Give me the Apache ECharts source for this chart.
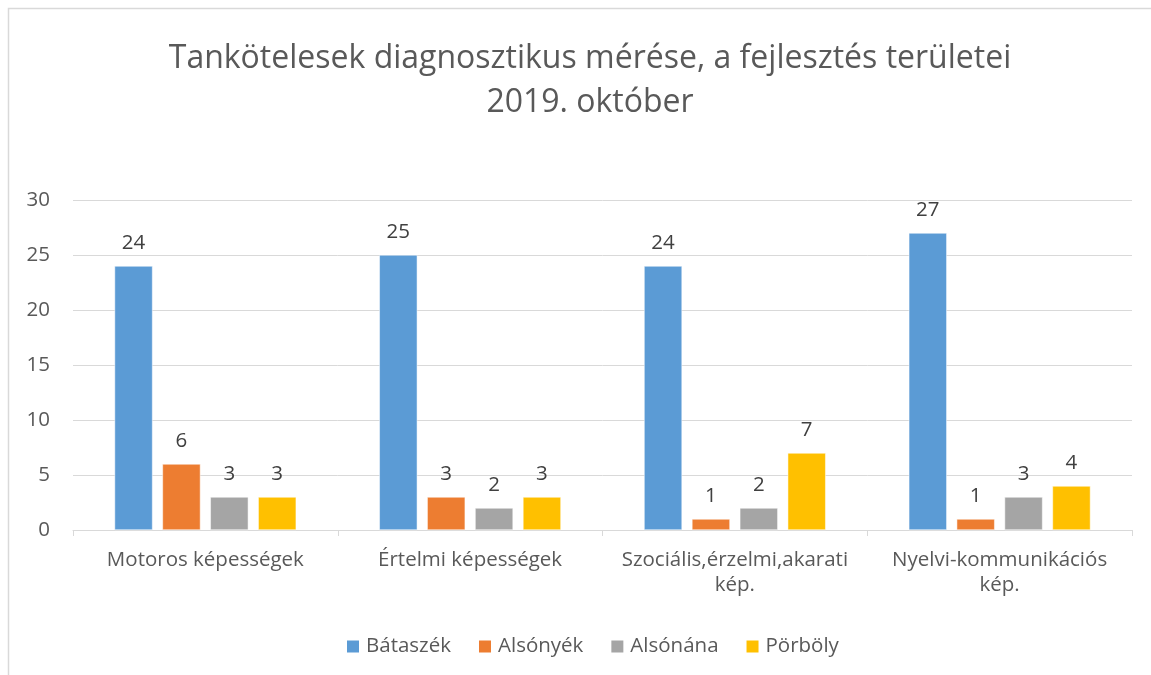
<!DOCTYPE html>
<html>
<head>
<meta charset="utf-8">
<script src="https://cdn.jsdelivr.net/npm/echarts@6/dist/echarts.min.js"></script>
<style>html,body{margin:0;padding:0;background:#fff;}#c{width:1151px;height:675px;}</style>
</head>
<body>
<div id="c"></div>
<script>
const categories = ['Motoros képességek', 'Értelmi képességek', 'Szociális,érzelmi,akarati\nkép.', 'Nyelvi-kommunikációs\nkép.'];
const seriesNames = ['Bátaszék', 'Alsónyék', 'Alsónána', 'Pörböly'];
const bataszek = [24, 25, 24, 27];
const alsonyek = [6, 3, 1, 1];
const alsonana = [3, 2, 2, 3];
const porboly = [3, 3, 7, 4];
const colors = ['#5B9BD5', '#ED7D31', '#A5A5A5', '#FFC000'];
const values = [bataszek, alsonyek, alsonana, porboly];

const font = '"Open Sans", "Noto Sans", sans-serif';
const chart = echarts.init(document.getElementById('c'), null, {renderer: 'canvas'});
chart.setOption({
  backgroundColor: '#fff',
  animation: false,
  graphic: [{
    type: 'rect', shape: {x: 8.5, y: 8.5, width: 1200, height: 700},
    style: {fill: 'none', stroke: '#d9d9d9', lineWidth: 1.5}, silent: true
  }],
  title: {
    text: 'Tankötelesek diagnosztikus mérése, a fejlesztés területei\n2019. október',
    left: 585, top: 32, textAlign: 'center',
    textStyle: {fontFamily: font, fontSize: 32, fontWeight: 'normal', color: '#595959', lineHeight: 44}
  },
  legend: {
    data: seriesNames, bottom: 13, left: 340, itemWidth: 14, itemHeight: 14, itemGap: 26,
    icon: 'rect',
    textStyle: {fontFamily: font, fontSize: 20.5, color: '#595959', padding: [0, 0, 0, 1]}
  },
  grid: {left: 73, right: 19, top: 200, bottom: 145},
  xAxis: {
    type: 'category', data: categories,
    axisLine: {lineStyle: {color: '#d9d9d9', width: 1}},
    axisTick: {show: true, length: 6, lineStyle: {color: '#d9d9d9'}},
    axisLabel: {fontFamily: font, fontSize: 20.5, color: '#595959', margin: 18, lineHeight: 25, interval: 0}
  },
  yAxis: {
    type: 'value', min: 0, max: 30, interval: 5,
    axisLine: {show: false}, axisTick: {show: false},
    splitLine: {lineStyle: {color: '#d9d9d9', width: 1}},
    axisLabel: {fontFamily: font, fontSize: 20.5, color: '#595959', margin: 23}
  },
  series: seriesNames.map((n, i) => ({
    name: n, type: 'bar', data: values[i], barWidth: 38, barGap: '26%',
    itemStyle: {color: colors[i], borderColor: '#fff', borderWidth: 0.5},
    label: {show: true, position: 'top', distance: 12, fontFamily: font, fontSize: 20.5, color: '#404040'}
  }))
});
</script>
</body>
</html>
